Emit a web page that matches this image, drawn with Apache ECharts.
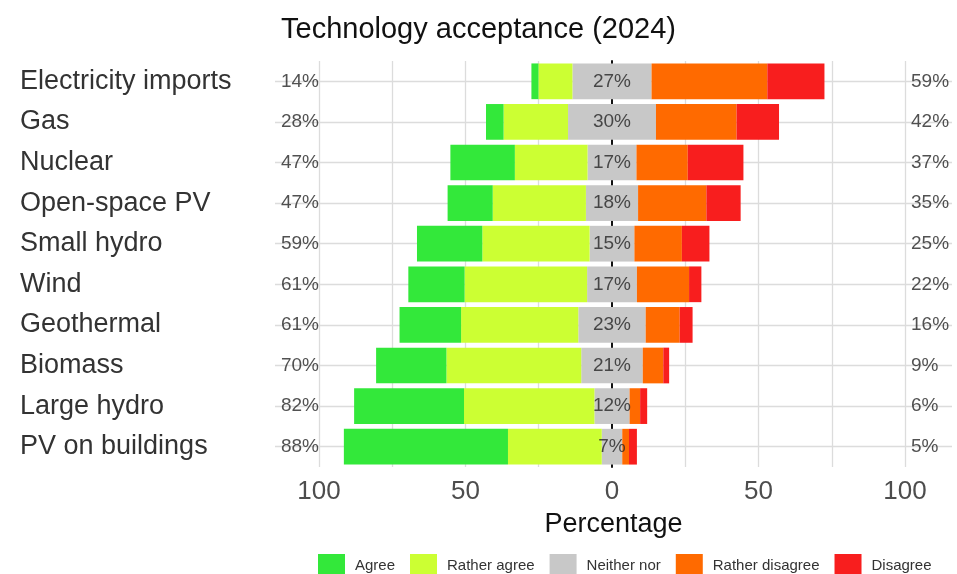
<!DOCTYPE html>
<html>
<head>
<meta charset="utf-8">
<script src="https://cdn.jsdelivr.net/npm/echarts@6/dist/echarts.min.js"></script>
<style>html,body{margin:0;padding:0;background:#fff;}#c{width:957px;height:574px;}</style>
</head>
<body>
<div id="c"></div>
<script>
const categories = ['Electricity imports','Gas','Nuclear','Open-space PV','Small hydro','Wind','Geothermal','Biomass','Large hydro','PV on buildings'];
const agree          = [2.4, 6,   22,   15.4, 22.3, 19.2, 21,   24, 37.5, 56];
const ratherAgree    = [11.6, 22, 24.8, 31.8, 36.6, 41.8, 40,   46, 44.5, 32];
const neither        = [27,  30,  16.7, 17.8, 15.3, 17,   23,   21, 12,   7];
const ratherDisagree = [39.5, 27.5, 17.5, 23.3, 16.2, 17.8, 11.6, 7, 3.6, 2.3];
const disagree       = [19.5, 14.5, 19,  11.7, 9.4,  4.2,  4.4,  2, 2.4,  2.7];
const agreeLabels    = ['14%','28%','47%','47%','59%','61%','61%','70%','82%','88%'];
const neitherLabels  = ['27%','30%','17%','18%','15%','17%','23%','21%','12%','7%'];
const disagreeLabels = ['59%','42%','37%','35%','25%','22%','16%','9%','6%','5%'];
const xTicks = [-100, -50, 0, 50, 100];
const xGrid = [-100, -75, -50, -25, 25, 50, 75, 100];
const legendNames = ['Agree','Rather agree','Neither nor','Rather disagree','Disagree'];

const C = {agree:'#33E83A', ra:'#CCFF33', n:'#C8C8C8', rd:'#FF6A00', d:'#F81E1E'};
const FONT = 'Liberation Sans, Arial, sans-serif';

const chart = echarts.init(document.getElementById('c'), null, {renderer:'canvas'});

function barSeries(name, data, color) {
  return {
    name: name, type: 'bar', stack: 'total', data: data,
    barCategoryGap: '12%', itemStyle: {color: color}, z: 6,
    emphasis: {disabled: true}
  };
}
function labelSeries(xv, labels, pos, dist) {
  return {
    type: 'scatter', symbolSize: 0, silent: true, z: 10,
    data: categories.map((c) => [xv, c]),
    label: {show: true, position: pos, distance: dist,
      formatter: (p) => labels[p.dataIndex],
      fontSize: 19, color: '#262626', fontFamily: FONT},
    tooltip: {show: false}
  };
}

const option = {
  animation: false,
  title: {text: 'Technology acceptance (2024)', left: 'center', top: 10,
    textStyle: {fontSize: 29, fontWeight: 'normal', color: '#111', fontFamily: FONT}},
  legend: {data: legendNames, left: 313, top: 549, icon: 'rect', itemWidth: 27, itemHeight: 23,
    itemGap: 15, textStyle: {fontSize: 15, color: '#333', fontFamily: FONT, padding: [0,0,0,5]}},
  grid: {left: 275, right: 5, top: 61, bottom: 107, containLabel: false},
  xAxis: {type: 'value', min: -115, max: 115 * 340 / 337,
    splitLine: {show: false}, axisLine: {show: false}, axisTick: {show: false},
    axisLabel: {customValues: xTicks, formatter: (v) => String(Math.abs(v)), fontSize: 26, color: '#4d4d4d', margin: 12, fontFamily: FONT},
    name: 'Percentage', nameLocation: 'middle', nameGap: 44,
    nameTextStyle: {fontSize: 27, color: '#111', fontFamily: FONT}},
  yAxis: {type: 'category', data: categories, inverse: true, z: 0,
    axisLine: {show: true, onZero: true, lineStyle: {color: '#111', width: 2}},
    axisTick: {show: false}, splitLine: {show: false},
    axisLabel: {align: 'left', margin: 255, fontSize: 27, color: '#333', fontFamily: FONT}},
  series: [
    {type: 'line', data: [], silent: true, z: 0,
      markLine: {silent: true, symbol: 'none', z: 0, label: {show: false},
        lineStyle: {color: '#dcdcdc', width: 1.3, type: 'solid'},
        data: categories.map(c => ({yAxis: c})).concat(xGrid.map(v => ({xAxis: v})))}},
    barSeries('Neither nor', neither.map(v => -v/2), C.n),
    barSeries('Rather agree', ratherAgree.map(v => -v), C.ra),
    barSeries('Agree', agree.map(v => -v), C.agree),
    barSeries('Neither nor', neither.map(v => v/2), C.n),
    barSeries('Rather disagree', ratherDisagree, C.rd),
    barSeries('Disagree', disagree, C.d),
    labelSeries(-100, agreeLabels, 'left', 0),
    labelSeries(0, neitherLabels, 'inside', 0),
    labelSeries(100, disagreeLabels, 'right', 6)
  ]
};
chart.setOption(option);
</script>
</body>
</html>
